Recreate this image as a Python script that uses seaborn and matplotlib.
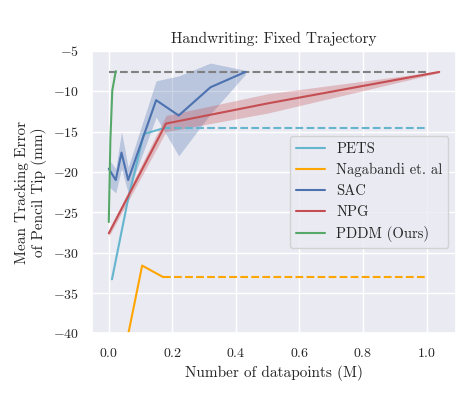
import numpy as np
import pandas as pd
import seaborn as sns
from matplotlib import pyplot as plt

# values
pets_x = [0.01, 0.06, 0.11, 0.17]
pets_y = [-33.3, -23.5, -15.3, -14.6]

naga_x = [0.01, 0.105, 0.17]
naga_y = [-50.0, -31.6, -33.0]

sac_x = [0.0, 0.022, 0.04, 0.061, 0.149, 0.22, 0.32, 0.43]
sac_y = [-19.6, -21.0, -17.6, -21.0, -11.1, -13.0, -9.5, -7.6]
sac_lo = [-21.8, -22.6, -19.6, -22.6, -13.2, -18.0, -12.8, -7.9]
sac_hi = [-18.4, -19.6, -15.0, -19.4, -8.7, -8.1, -6.5, -7.4]

npg_x = [0.0, 0.18, 0.5, 1.04]
npg_y = [-27.6, -14.0, -11.5, -7.6]
npg_lo = [-28.0, -15.0, -12.7, -7.7]
npg_hi = [-27.2, -13.0, -10.3, -7.5]

pddm_x = [0.0, 0.005, 0.011, 0.022]
pddm_y = [-26.2, -16.0, -9.9, -7.5]

pddm_final = -7.6
pets_final = -14.6
naga_final = -33.0
final_x = [0.17, 1.0]

sns.set_theme(style='darkgrid')
plt.rcParams['font.family'] = 'serif'
plt.rcParams['font.serif'] = ['cmr10', 'DejaVu Serif']
plt.rcParams['mathtext.fontset'] = 'cm'
plt.rcParams['axes.formatter.use_mathtext'] = True

c_pets = '#64B5CD'
c_naga = '#FFA500'
c_sac = '#4C72B0'
c_npg = '#C44E52'
c_pddm = '#55A868'

fig, ax = plt.subplots(figsize=(4.66, 3.95), dpi=100)
fig.subplots_adjust(left=0.198, right=0.978, bottom=0.156, top=0.871)

# asymptotic dashed lines
ax.plot([0.0, 1.0], [pddm_final, pddm_final], '--', color='gray', lw=1.5)
ax.plot(final_x, [pets_final, pets_final], '--', color=c_pets, lw=1.5)
ax.plot(final_x, [naga_final, naga_final], '--', color=c_naga, lw=1.5)

ax.fill_between(sac_x, sac_lo, sac_hi, color=c_sac, alpha=0.3, lw=0)
ax.fill_between(npg_x, npg_lo, npg_hi, color=c_npg, alpha=0.3, lw=0)

sns.lineplot(x=pets_x, y=pets_y, ax=ax, color=c_pets, lw=1.5, label='PETS')
sns.lineplot(x=naga_x, y=naga_y, ax=ax, color=c_naga, lw=1.5, label='Nagabandi et. al')
sns.lineplot(x=sac_x, y=sac_y, ax=ax, color=c_sac, lw=1.5, label='SAC')
sns.lineplot(x=npg_x, y=npg_y, ax=ax, color=c_npg, lw=1.5, label='NPG')
sns.lineplot(x=pddm_x, y=pddm_y, ax=ax, color=c_pddm, lw=1.5, label='PDDM (Ours)')

ax.set_xlim(-0.052, 1.092)
ax.set_ylim(-40, -5)
ax.set_xticks([0.0, 0.2, 0.4, 0.6, 0.8, 1.0])
ax.set_title('Handwriting: Fixed Trajectory', fontsize=11)
ax.set_xlabel('Number of datapoints (M)', fontsize=11)
ax.set_ylabel('Mean Tracking Error\nof Pencil Tip (mm)', fontsize=11)
ax.tick_params(labelsize=10)
ax.legend(loc='center right', fontsize=10.5)

plt.savefig('out.png', dpi=100)
